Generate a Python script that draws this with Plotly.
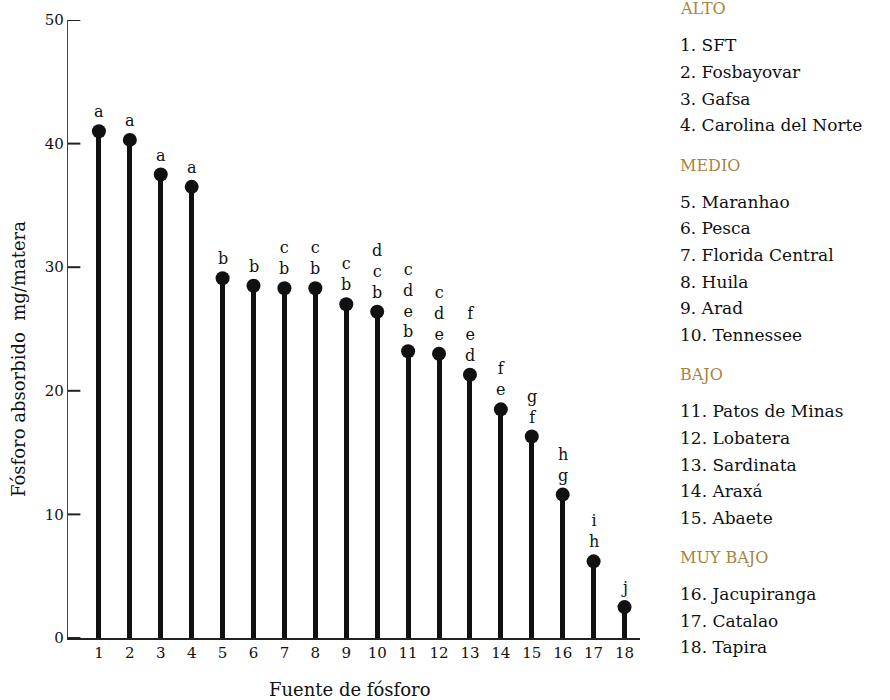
import plotly.graph_objects as go

# Phosphorus uptake per source (mg/pot), sources numbered 1-18
fuentes = list(range(1, 19))
fosforo = [41.0, 40.3, 37.5, 36.5, 29.1, 28.5, 28.3, 28.3, 27.0,
           26.4, 23.2, 23.0, 21.3, 18.5, 16.3, 11.6, 6.2, 2.5]
# Significance groups shown above each point (top to bottom)
letras = ["a", "a", "a", "a", "b", "b", "c<br>b", "c<br>b", "c<br>b",
          "d<br>c<br>b", "c<br>d<br>e<br>b", "c<br>d<br>e", "f<br>e<br>d",
          "f<br>e", "g<br>f", "h<br>g", "i<br>h", "j"]
marcas_y = [0, 10, 20, 30, 40, 50]

grupos = ["ALTO", "MEDIO", "BAJO", "MUY BAJO"]
nombres = [
    ["SFT", "Fosbayovar", "Gafsa", "Carolina del Norte"],
    ["Maranhao", "Pesca", "Florida Central", "Huila", "Arad", "Tennessee"],
    ["Patos de Minas", "Lobatera", "Sardinata", "Araxá", "Abaete"],
    ["Jacupiranga", "Catalao", "Tapira"],
]

SERIF = "DejaVu Serif, Liberation Serif, serif"
INK = "#111111"
GOLD = "#a8843f"

fig = go.Figure()

# stems
fig.add_trace(go.Bar(x=fuentes, y=fosforo, width=0.16,
                     marker=dict(color=INK, line=dict(width=0)),
                     hoverinfo="skip", showlegend=False))
# dots
fig.add_trace(go.Scatter(x=fuentes, y=fosforo, mode="markers",
                         marker=dict(color=INK, size=14),
                         showlegend=False))

# short tick marks pointing into the plot from the y axis
tick_len = 0.4
tx, ty = [], []
for v in marcas_y:
    tx += [0, tick_len, None]
    ty += [v, v, None]
fig.add_trace(go.Scatter(x=tx, y=ty, mode="lines", cliponaxis=False,
                         line=dict(color="#222222", width=2),
                         hoverinfo="skip", showlegend=False))

annotations = []
for xi, yi, txt in zip(fuentes, fosforo, letras):
    annotations.append(dict(x=xi, y=yi, xref="x", yref="y", text=txt,
                            showarrow=False, xanchor="center",
                            yanchor="bottom", yshift=8,
                            font=dict(family=SERIF, size=16, color=INK)))

# numbered key of sources, grouped by level
plot_top, plot_bottom = 20, 638
def paper_y(py):
    return (plot_bottom - py) / (plot_bottom - plot_top)

left_px, right_px = 68, 640
def paper_x(px):
    return (px - left_px) / (right_px - left_px)

ypos = 9
num = 1
for g, items in zip(grupos, nombres):
    annotations.append(dict(x=paper_x(678), y=paper_y(ypos), xref="paper",
                            yref="paper", text=g, showarrow=False,
                            xanchor="left", yanchor="middle",
                            font=dict(family=SERIF, size=16, color=GOLD)))
    ypos += 36.5
    for name in items:
        annotations.append(dict(x=paper_x(678), y=paper_y(ypos),
                                xref="paper", yref="paper",
                                text=f"{num}. {name}", showarrow=False,
                                xanchor="left", yanchor="middle",
                                font=dict(family=SERIF, size=17, color=INK)))
        num += 1
        ypos += 26.6
    ypos += 40 - 26.6

# axis titles
annotations.append(dict(x=paper_x(350), y=paper_y(689), xref="paper",
                        yref="paper", text="Fuente de fósforo",
                        showarrow=False, xanchor="center", yanchor="middle",
                        font=dict(family=SERIF, size=18, color=INK)))
annotations.append(dict(x=paper_x(18), y=paper_y(359), xref="paper",
                        yref="paper", text="Fósforo absorbido\u00a0 mg/matera",
                        textangle=-90, showarrow=False, xanchor="center",
                        yanchor="middle",
                        font=dict(family=SERIF, size=18, color=INK)))

fig.update_layout(
    width=890, height=700,
    margin=dict(l=left_px, r=890 - right_px, t=plot_top, b=700 - plot_bottom),
    paper_bgcolor="white", plot_bgcolor="white",
    annotations=annotations,
    bargap=0,
    xaxis=dict(range=[0, 18.5], tickmode="array", tickvals=fuentes,
               ticktext=[str(f) for f in fuentes], showgrid=False,
               zeroline=False, showline=True, linecolor="#222222",
               linewidth=1.5, ticks="",
               tickfont=dict(family=SERIF, size=15, color=INK)),
    yaxis=dict(range=[0, 50], tickmode="array", tickvals=marcas_y,
               showgrid=False, zeroline=False, showline=True,
               linecolor="#444444", linewidth=1.2, ticks="",
               tickfont=dict(family=SERIF, size=15, color=INK)),
)

fig.write_html("out.html")
